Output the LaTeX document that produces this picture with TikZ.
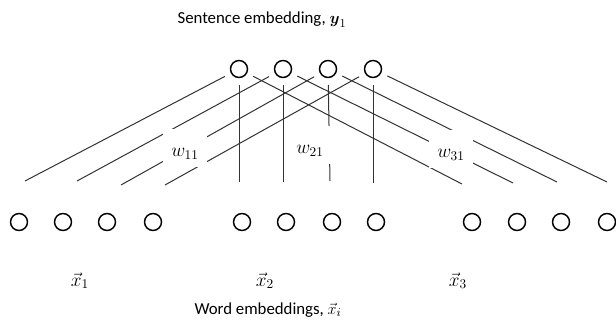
\documentclass[tikz,border=0pt]{standalone}
\usepackage{amsmath,amssymb}
\usepackage{fontspec}
\setmainfont{Carlito}
\usepackage{tikz}
\usetikzlibrary{positioning, calc}

\begin{document}
\begin{tikzpicture}[
		x=0.75pt, y=-0.75pt,
		every node/.style={font=\fontsize{12.6}{15}\selectfont},
		unit/.style={draw, circle, line width=1.1pt, minimum size=12.75pt, inner sep=0pt},
		link/.style={line width=0.75pt, black!80, shorten <=5pt},
		mathlabel/.style={font=\fontsize{14}{16}\selectfont, anchor=base},
		weight/.style={mathlabel, fill=white, inner sep=0pt, minimum width=33pt, text height=21pt, text depth=7.5pt}
		]
		\useasboundingbox (0,0) rectangle (616,331);
		
		% === NODES ===
		
		% Sentence embedding units (top)
		\node [unit] (top1) at (239,69) {};
		\node [unit] (top2) at (283,69) {};
		\node [unit] (top3) at (328,69) {};
		\node [unit] (top4) at (373,69) {};
		
		% Word embedding units, first word
		\node [unit] (wordA1) at (19,222) {};
		\node [unit] (wordA2) at (63,222) {};
		\node [unit] (wordA3) at (107,222) {};
		\node [unit] (wordA4) at (153,222) {};
		
		% Word embedding units, second word
		\node [unit] (wordB1) at (242,222) {};
		\node [unit] (wordB2) at (286,222) {};
		\node [unit] (wordB3) at (332,222) {};
		\node [unit] (wordB4) at (376,222) {};
		
		% Word embedding units, third word
		\node [unit] (wordC1) at (472,222) {};
		\node [unit] (wordC2) at (517,222) {};
		\node [unit] (wordC3) at (561,222) {};
		\node [unit] (wordC4) at (607,222) {};
		
		% Free ends of the weight lines
		\coordinate (endA1) at (25,181);
		\coordinate (endA2) at (77,181);
		\coordinate (endA3) at (121,185);
		\coordinate (endA4) at (165,185);
		\coordinate (endB1) at (239,182);
		\coordinate (endB2) at (283,182);
		\coordinate (endB3) at (330,181);
		\coordinate (endB4) at (373,183);
		\coordinate (endC1) at (462,184);
		\coordinate (endC2) at (513,183);
		\coordinate (endC3) at (557,182);
		\coordinate (endC4) at (607,182);
		
		% === WEIGHT LINES ===
		
		% towards first word
		\draw[link] (top1) -- (endA1);
		\draw[link] (top2) -- (endA2);
		\draw[link] (top3) -- (endA3);
		\draw[link] (top4) -- (endA4);
		
		% towards second word
		\draw[link] (top1) -- (endB1);
		\draw[link] (top2) -- (endB2);
		\draw[link] (top3) -- (endB3);
		\draw[link] (top4) -- (endB4);
		
		% towards third word
		\draw[link] (top1) -- (endC1);
		\draw[link] (top2) -- (endC2);
		\draw[link] (top3) -- (endC3);
		\draw[link] (top4) -- (endC4);
		
		% === WEIGHT LABELS (white boxes cut the lines) ===
		\node[weight] (w11) at (185,157) {$w_{11}$};
		\node[weight] (w21) at (310,154) {$w_{21}$};
		\node[weight] (w31) at (451,158) {$w_{31}$};
		
		% === TEXT ===
		\node[anchor=base] (sentence) at (262,24) {Sentence embedding, $\boldsymbol{y}_1$};
		\node[mathlabel] (xA) at (80,286) {$\vec{x}_1$};
		\node[mathlabel] (xB) at (265,286) {$\vec{x}_2$};
		\node[mathlabel] (xC) at (458,286) {$\vec{x}_3$};
		\node[anchor=base] (words) at (268,314) {Word embeddings, $\vec{x}_i$};
		
	\end{tikzpicture}
\end{document}
